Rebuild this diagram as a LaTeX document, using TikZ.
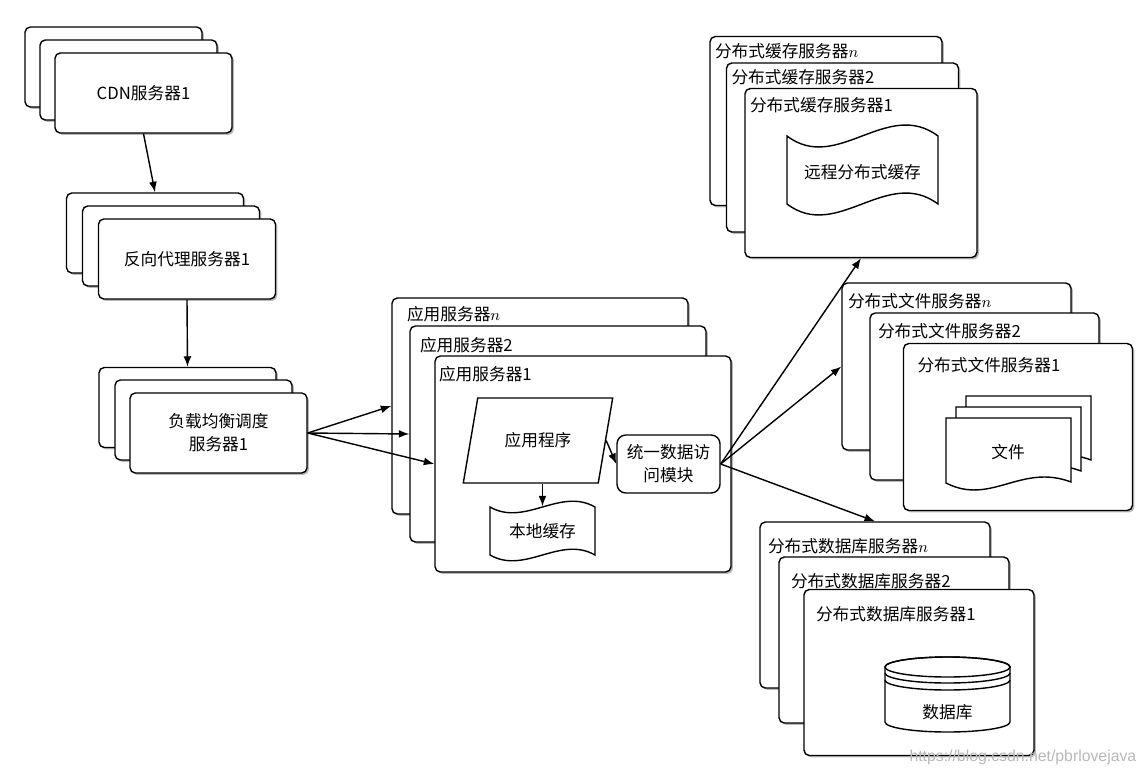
\documentclass[tikz,border=0pt]{standalone}
\usepackage{fontspec}
\setmainfont{Noto Sans CJK SC}
\newfontfamily\urlfont{Liberation Sans}
\usetikzlibrary{shapes.geometric,shadows,arrows.meta}

\tikzset{
    srv/.style={draw, fill=white, rounded corners=3pt,
        drop shadow={shadow xshift=1.1pt, shadow yshift=-1.1pt, opacity=0.55}},
    edgebox/.style={srv, minimum width=3.54cm, minimum height=1.6cm},
    appbox/.style={srv, minimum width=5.92cm, minimum height=4.32cm},
    cachebox/.style={srv, minimum width=4.64cm, minimum height=3.38cm},
    filebox/.style={srv, minimum width=4.58cm, minimum height=3.34cm},
    dbbox/.style={srv, minimum width=4.6cm, minimum height=3.32cm},
    ttl/.style={anchor=west, inner sep=0pt},
}

\begin{document}
\begin{tikzpicture}[x=0.02cm, y=-0.02cm, line width=0.8pt,
    >={Latex[length=6pt,width=4.5pt]}, font=\fontsize{9.5}{13}\selectfont]

    \useasboundingbox (0,0) rectangle (1146,774);

    %cdn
    \node[edgebox] (cdn3) at (113.5,67) {};
    \node[edgebox] (cdn2) at (128.5,80) {};
    \node[edgebox] (cdn1) at (143.5,93) {CDN服务器1};
    %proxy
    \node[edgebox] (proxy3) at (155,233) {};
    \node[edgebox] (proxy2) at (171,246) {};
    \node[edgebox] (proxy1) at (187,259) {反向代理服务器1};
    %load balance
    \node[edgebox] (lb3) at (187.5,407.5) {};
    \node[edgebox] (lb2) at (203.5,420) {};
    \node[edgebox, align=center] (lb1) at (218.5,433) {负载均衡调度\\服务器1};

    %app servers
    \node[appbox] (appn) at (540,406) {};
    \node[ttl] (appn-t) at ([shift={(15,17)}]appn.north west) {应用服务器$n$};
    \node[appbox] (app2) at (558,434) {};
    \node[ttl] (app2-t) at ([shift={(10,20)}]app2.north west) {应用服务器2};
    \node[appbox] (app1) at (583,464) {};
    \node[ttl] (app1-t) at ([shift={(4,19)}]app1.north west) {应用服务器1};

    \node[draw, fill=white, trapezium, trapezium left angle=71, trapezium right angle=109,
        trapezium stretches=true, minimum width=3cm, minimum height=1.7cm] (prog) at (538,440.5) {应用程序};
    \node[draw, fill=white, rounded corners=5pt, align=center,
        minimum width=2.06cm, minimum height=1.16cm] (access) at (668.5,464) {统一数据访\\问模块};
    %local cache
    \draw[fill=white] (490,507) .. controls (525,527) and (560,487) .. (595,507) -- (595,555)
        .. controls (560,535) and (525,575) .. (490,555) -- cycle;
    \node[minimum width=2.1cm, minimum height=0.96cm] (local) at (542.5,531) {本地缓存};

    %cache servers
    \node[cachebox] (cachen) at (826,121) {};
    \node[ttl] (cachen-t) at ([shift={(5,15)}]cachen.north west) {分布式缓存服务器$n$};
    \node[cachebox] (cache2) at (842.5,147.5) {};
    \node[ttl] (cache2-t) at ([shift={(5,15)}]cache2.north west) {分布式缓存服务器2};
    \node[cachebox] (cache1) at (861,173) {};
    \node[ttl] (cache1-t) at ([shift={(5,17)}]cache1.north west) {分布式缓存服务器1};
    \draw[fill=white] (787,136) .. controls (837,174) and (887,98) .. (938,136) -- (938,204)
        .. controls (887,166) and (837,242) .. (787,204) -- cycle;
    \node[minimum width=3.02cm, minimum height=1.36cm] (remote) at (862.5,172) {远程分布式缓存};

    %file servers
    \node[filebox] (filen) at (956.5,366.5) {};
    \node[ttl] (filen-t) at ([shift={(6,19)}]filen.north west) {分布式文件服务器$n$};
    \node[filebox] (file2) at (984.5,396.5) {};
    \node[ttl] (file2-t) at ([shift={(8,19)}]file2.north west) {分布式文件服务器2};
    \node[filebox] (file1) at (1018,427) {};
    \node[ttl] (file1-t) at ([shift={(14,22)}]file1.north west) {分布式文件服务器1};
    \foreach \s in {2,1,0} {
        \draw[fill=white, shift={(10*\s,-11*\s)}] (946,418) -- (1071,418) -- (1071,482)
            .. controls (1021,463) and (991,506) .. (946,483) -- cycle;
    }
    \node (doc) at (1008,452) {文件};

    %db servers
    \node[dbbox] (dbn) at (875,605) {};
    \node[ttl] (dbn-t) at ([shift={(8,25)}]dbn.north west) {分布式数据库服务器$n$};
    \node[dbbox] (db2) at (894,640) {};
    \node[ttl] (db2-t) at ([shift={(12,25)}]db2.north west) {分布式数据库服务器2};
    \node[dbbox] (db1) at (919,672.5) {};
    \node[ttl] (db1-t) at ([shift={(12,25)}]db1.north west) {分布式数据库服务器1};
    \draw[fill=white] (885,667) -- (885,722) arc[start angle=180, end angle=0, x radius=62.5, y radius=10]
        -- (1010,667) arc[start angle=0, end angle=-180, x radius=62.5, y radius=10] -- cycle;
    \draw (947.5,667) ellipse[x radius=62.5, y radius=10];
    \draw (885,673) arc[start angle=180, end angle=0, x radius=62.5, y radius=10];
    \draw (885,680) arc[start angle=180, end angle=0, x radius=62.5, y radius=10];
    \node (dbtext) at (947.5,712) {数据库};

    %arrows
    \draw[->] (cdn1.south) -- (proxy3.north);
    \draw[->] (proxy1.south) -- (lb3.north);
    \draw[->] (lb1.east) -- (appn.west);
    \draw[->] (lb1.east) -- (app2.west);
    \draw[->] (lb1.east) -- (app1.west);
    \draw[->] (prog.east) -- (access.west);
    \draw[->] (prog.south -| local.north) -- (local.north);
    \draw[->] (access.east) -- (cache1.south);
    \draw[->] (access.east) -- (filen.west);
    \draw[->] (access.east) -- (dbn.north);

    \node[font=\urlfont\fontsize{9}{10}\selectfont, text=gray!55, anchor=east, inner sep=0pt] (wm)
        at (1137,757) {https://blog.csdn.net/pbrlovejava};

\end{tikzpicture}
\end{document}
